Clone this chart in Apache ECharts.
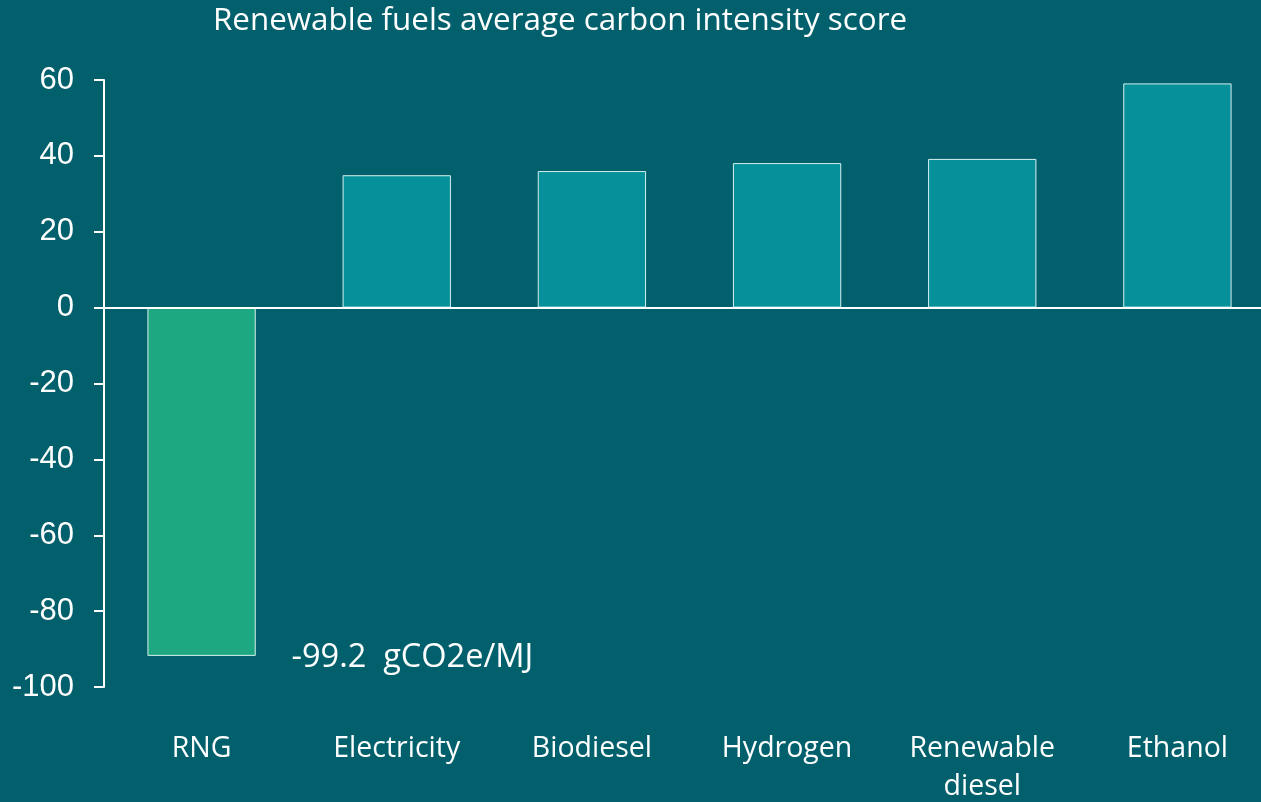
<!DOCTYPE html>
<html>
<head>
<meta charset="utf-8">
<script src="https://cdn.jsdelivr.net/npm/echarts@6/dist/echarts.min.js"></script>
<style>
  html, body { margin: 0; padding: 0; background: #02606d; }
  #chart { width: 1261px; height: 802px; }
</style>
</head>
<body>
<div id="chart"></div>
<script>
// --- data ---
const fuels      = ['RNG', 'Electricity', 'Biodiesel', 'Hydrogen', 'Renewable\ndiesel', 'Ethanol'];
const ciScores   = [-91.8, 34.9, 36.0, 38.1, 39.2, 59.1];
const barColors  = ['#1da882', '#05909a', '#05909a', '#05909a', '#05909a', '#05909a'];
const rngNote    = '-99.2  gCO2e/MJ';
const chartTitle = 'Renewable fuels average carbon intensity score';

const BG    = '#02606d';
const WHITE = '#ffffff';
const SANS  = '"Open Sans", "Noto Sans", sans-serif';
const ARIAL = '"Liberation Sans", Arial, sans-serif';

const chart = echarts.init(document.getElementById('chart'), null, { renderer: 'canvas' });

chart.setOption({
  backgroundColor: BG,
  animation: false,
  title: {
    text: chartTitle,
    left: 555,
    textAlign: 'center',
    top: 1,
    textStyle: { color: WHITE, fontSize: 31.4, fontWeight: 'normal', fontFamily: SANS },
  },
  // plot area runs a little past the right edge, as in the original;
  // outerBoundsMode none so v6 doesn't squeeze it back inside the canvas
  grid: { left: 104, top: 80, width: 1171, height: 607, outerBoundsMode: 'none', containLabel: false },
  xAxis: {
    type: 'category',
    data: fuels,
    axisLine:  { show: false },
    axisTick:  { show: false },
    axisLabel: {
      color: WHITE, fontSize: 28.5, fontFamily: SANS,
      margin: 43, lineHeight: 38, interval: 0,
    },
  },
  yAxis: {
    type: 'value',
    min: -100, max: 60, interval: 20,
    splitLine: { show: false },
    axisLine:  { show: true, lineStyle: { color: WHITE, width: 2 } },
    axisTick:  { show: true, inside: false, length: 10, lineStyle: { color: WHITE, width: 2 } },
    axisLabel: { color: WHITE, fontSize: 31, fontFamily: ARIAL, margin: 30 },
  },
  series: [{
    type: 'bar',
    barWidth: '55.5%',
    data: ciScores.map((v, i) => ({
      value: v,
      itemStyle: { color: barColors[i], borderColor: '#d8f0ee', borderWidth: 1 },
    })),
    markLine: {
      silent: true,
      symbol: 'none',
      label: { show: false },
      lineStyle: { color: WHITE, width: 2, type: 'solid' },
      data: [{ yAxis: 0 }],
    },
    markPoint: {
      silent: true,
      symbol: 'circle',
      symbolSize: 0,
      data: [{ coord: [0, ciScores[0]] }],
      label: {
        show: true,
        position: 'right',
        distance: 90,
        offset: [0, 2],
        formatter: rngNote,
        color: WHITE, fontSize: 32.5, fontFamily: SANS,
      },
    },
  }],
});
</script>
</body>
</html>
